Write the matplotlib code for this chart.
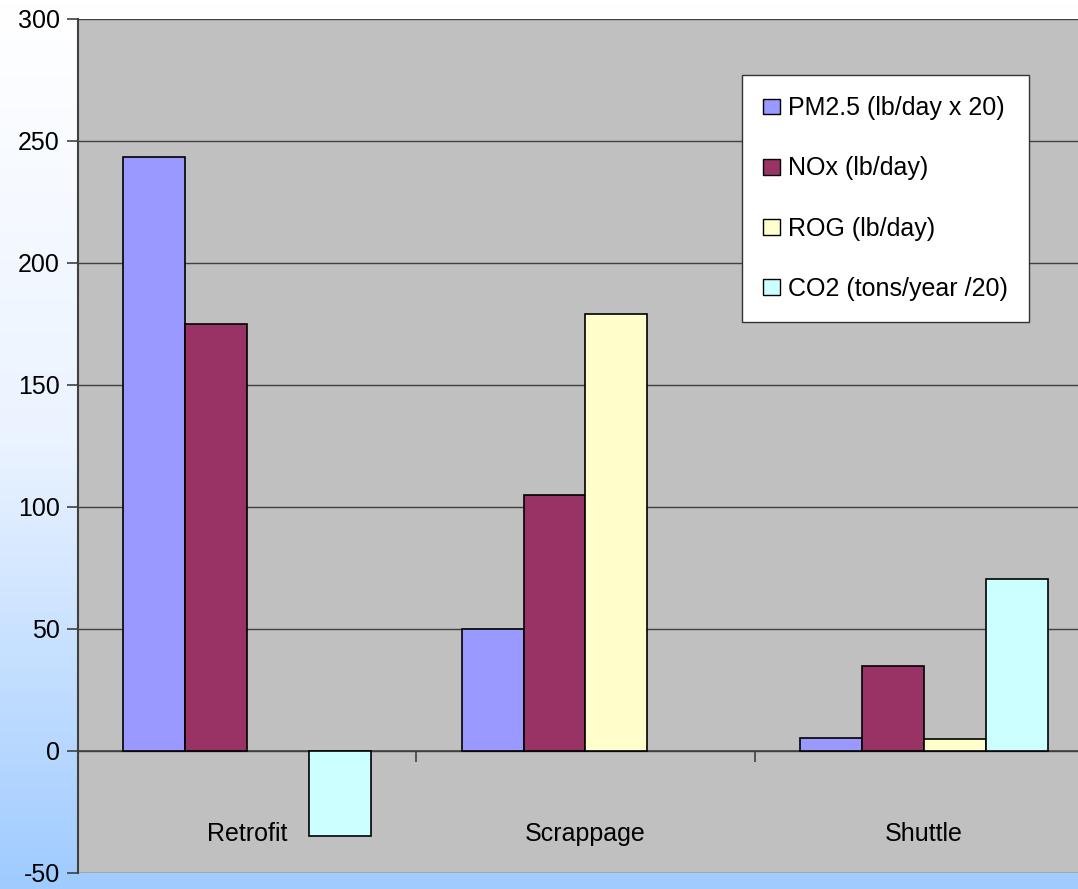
import matplotlib.pyplot as plt
import numpy as np
from matplotlib.colors import LinearSegmentedColormap

plt.rcParams['font.family'] = ['Liberation Sans', 'DejaVu Sans']
plt.rcParams['axes.unicode_minus'] = False

categories = ['Retrofit', 'Scrappage', 'Shuttle']
series_names = ['PM2.5 (lb/day x 20)', 'NOx (lb/day)', 'ROG (lb/day)', 'CO2 (tons/year /20)']
pm25 = [243.5, 50, 5.5]
nox = [175, 105, 35]
rog = [0, 179, 5]
co2 = [-35, 0, 70.5]
series = [pm25, nox, rog, co2]
colors = ['#9999FF', '#993366', '#FFFFCC', '#CCFFFF']

fig = plt.figure(figsize=(10.78, 8.89), dpi=100)

# soft white-to-blue backdrop behind everything
bg = fig.add_axes([0, 0, 1, 1], zorder=-10)
grad = np.linspace(0, 1, 256).reshape(-1, 1)
cmap = LinearSegmentedColormap.from_list('bg', ['#FFFFFF', '#EAF3FF', '#9FCBFF'])
bg.imshow(grad, aspect='auto', cmap=cmap, extent=[0, 1, 0, 1], origin='upper')
bg.axis('off')

W, H = 1078, 889
ax = fig.add_axes([78 / W, (H - 873) / H, 1015 / W, 854 / H])
ax.set_facecolor('#C0C0C0')

x = np.arange(len(categories))
bw = 0.183
for k, (vals, name, c) in enumerate(zip(series, series_names, colors)):
    # zero-height bars get no outline
    edges = ['black' if v != 0 else 'none' for v in vals]
    ax.bar(x + (k - 1.5) * bw, vals, bw, color=c, edgecolor=edges,
           linewidth=1.2, label=name, zorder=3)

ax.set_xlim(-0.5, 2.5)
ax.set_ylim(-50, 300)
ax.set_yticks(np.arange(-50, 301, 50))
ax.yaxis.grid(True, color='#404040', linewidth=1.0, zorder=1)
ax.set_axisbelow(True)

for s in ['top', 'right']:
    ax.spines[s].set_visible(False)
ax.spines['left'].set_color('#404040')
ax.spines['left'].set_linewidth(1.5)
ax.spines['bottom'].set_position(('data', 0))
ax.spines['bottom'].set_color('#404040')
ax.spines['bottom'].set_linewidth(1.2)

ax.tick_params(axis='y', direction='out', length=8, width=1.2, color='#404040',
               labelsize=18, pad=5)
ax.set_xticks([0.5, 1.5])
ax.set_xticklabels([])
ax.tick_params(axis='x', direction='out', length=8, width=1.2, color='#404040')

for i, cat in enumerate(categories):
    ax.text(i, -34, cat, ha='center', va='center', fontsize=18)

leg = ax.legend(loc='upper left', bbox_to_anchor=(742 / W, 1 - 75 / H),
                bbox_transform=fig.transFigure, fontsize=18, frameon=True,
                fancybox=False, edgecolor='#333333', framealpha=1,
                labelspacing=1.45, handlelength=0.68, handleheight=0.6,
                handletextpad=0.32, borderpad=0.85, borderaxespad=0)
for h in leg.legend_handles:
    h.set_edgecolor('black')
    h.set_linewidth(1.0)

fig.savefig('out.png', dpi=100)
